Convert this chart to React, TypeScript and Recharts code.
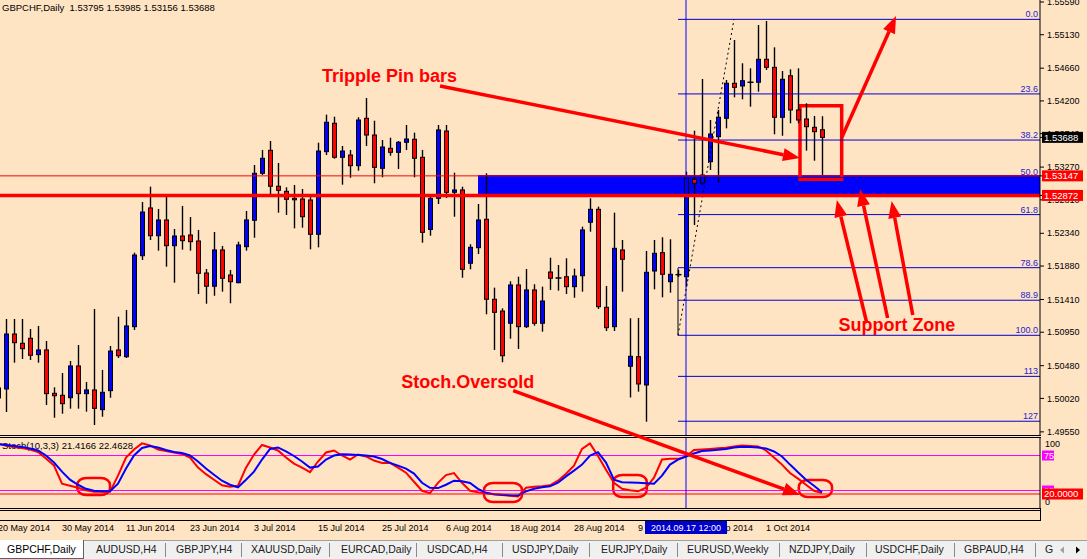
import React from "react";
import { ComposedChart, Bar, Line, XAxis, YAxis, ReferenceLine, ReferenceArea, ReferenceDot } from "recharts";

// GBPCHF daily bars, 20 May 2014 .. 10 Oct 2014
const opens = [
  1.50167, 1.50153, 1.50925, 1.50795, 1.50865, 1.50635, 1.50701, 1.50092, 1.50064, 1.50030,
  1.50476, 1.50087, 1.50139, 1.49862, 1.50129, 1.50701, 1.50606, 1.51028, 1.52025, 1.52696,
  1.52306, 1.52527, 1.52166, 1.52302, 1.52316, 1.52232, 1.51782, 1.51596, 1.52106, 1.51754,
  1.51646, 1.52152, 1.52523, 1.53183, 1.53506, 1.53001, 1.52930, 1.52832, 1.52822, 1.52808,
  1.52326, 1.53487, 1.53886, 1.53408, 1.53440, 1.53290, 1.53956, 1.53721, 1.53253, 1.53534,
  1.53478, 1.53619, 1.53661, 1.53408, 1.52394, 1.52832, 1.53777, 1.52916, 1.52949, 1.51919,
  1.52138, 1.52537, 1.51413, 1.51248, 1.51076, 1.51614, 1.51028, 1.51544, 1.51076, 1.51796,
  1.51712, 1.51730, 1.51590, 1.51744, 1.52495, 1.52677, 1.51300, 1.51028, 1.52106, 1.50472,
  1.50606, 1.50209, 1.51810, 1.52068, 1.51660, 1.51759, 1.51730, 1.53099, 1.53043, 1.53346,
  1.53697, 1.53956, 1.54448, 1.54410, 1.54462, 1.54462, 1.54785, 1.54672, 1.53970, 1.54554,
  1.54073, 1.53946, 1.53829, 1.53795,
];
const highs = [
  1.50195, 1.51136, 1.51136, 1.51136, 1.50996, 1.51038, 1.50827, 1.50176, 1.50377, 1.50546,
  1.50771, 1.50251, 1.51277, 1.50420, 1.50757, 1.51168, 1.51263, 1.52068, 1.52780, 1.52995,
  1.52682, 1.52864, 1.52401, 1.52724, 1.52569, 1.52387, 1.51839, 1.52358, 1.52162, 1.51825,
  1.52222, 1.52653, 1.53300, 1.53511, 1.53637, 1.53328, 1.52986, 1.53019, 1.52963, 1.52864,
  1.53613, 1.54007, 1.53978, 1.53567, 1.53511, 1.53970, 1.54241, 1.53922, 1.53651, 1.53683,
  1.53637, 1.53862, 1.53754, 1.53511, 1.52864, 1.53862, 1.53862, 1.53192, 1.52995, 1.52186,
  1.52752, 1.53183, 1.51576, 1.51286, 1.51666, 1.51730, 1.51839, 1.51624, 1.51590, 1.51997,
  1.51895, 1.51989, 1.51843, 1.52433, 1.52832, 1.52714, 1.51600, 1.52630, 1.52246, 1.51146,
  1.51150, 1.52091, 1.52246, 1.52284, 1.52256, 1.51825, 1.53206, 1.53782, 1.54508, 1.53932,
  1.54073, 1.54494, 1.55056, 1.54729, 1.54658, 1.55267, 1.55323, 1.54953, 1.54620, 1.54644,
  1.54658, 1.54167, 1.53988, 1.53985,
];
const lows = [
  1.49970, 1.49829, 1.50522, 1.50574, 1.50560, 1.50522, 1.49928, 1.49749, 1.49806, 1.49876,
  1.49876, 1.49834, 1.49647, 1.49763, 1.50030, 1.50588, 1.50588, 1.50982, 1.51965, 1.52246,
  1.52096, 1.51871, 1.51646, 1.52110, 1.52096, 1.51487, 1.51351, 1.51463, 1.51520, 1.51357,
  1.51638, 1.52096, 1.52278, 1.53159, 1.52878, 1.52630, 1.52597, 1.52410, 1.52419, 1.52115,
  1.52143, 1.53440, 1.53388, 1.53023, 1.53121, 1.53220, 1.53567, 1.53043, 1.53127, 1.53430,
  1.53244, 1.53511, 1.53127, 1.52208, 1.52306, 1.52752, 1.52836, 1.52573, 1.51716, 1.51834,
  1.52049, 1.51202, 1.50701, 1.50528, 1.50859, 1.50715, 1.51010, 1.51042, 1.50958, 1.51544,
  1.51534, 1.51487, 1.51435, 1.51520, 1.52363, 1.51277, 1.50967, 1.50967, 1.51520, 1.50033,
  1.50115, 1.49693, 1.51553, 1.51441, 1.51506, 1.51726, 1.51590, 1.52457, 1.53019, 1.53230,
  1.53051, 1.53815, 1.54251, 1.54223, 1.54119, 1.54330, 1.54635, 1.53731, 1.53711, 1.53886,
  1.53886, 1.53501, 1.53360, 1.53156,
];
const closes = [
  1.50026, 1.50925, 1.50803, 1.50719, 1.50626, 1.50701, 1.50087, 1.50058, 1.49946, 1.50476,
  1.50087, 1.50139, 1.49881, 1.50106, 1.50686, 1.50620, 1.51038, 1.52035, 1.52639, 1.52306,
  1.52527, 1.52166, 1.52302, 1.52236, 1.52222, 1.51778, 1.51596, 1.52106, 1.51708, 1.51660,
  1.52176, 1.52527, 1.53183, 1.53394, 1.53001, 1.52944, 1.52818, 1.52812, 1.52573, 1.52326,
  1.53496, 1.53900, 1.53408, 1.53496, 1.53290, 1.53932, 1.53721, 1.53267, 1.53553, 1.53478,
  1.53619, 1.53665, 1.53394, 1.52354, 1.52832, 1.53792, 1.52916, 1.52949, 1.51834, 1.52143,
  1.52527, 1.51413, 1.51230, 1.50620, 1.51614, 1.51028, 1.51544, 1.51076, 1.51389, 1.51708,
  1.51712, 1.51590, 1.51740, 1.52387, 1.52677, 1.51309, 1.51014, 1.52129, 1.51975, 1.50612,
  1.50223, 1.51792, 1.52059, 1.51764, 1.51764, 1.51759, 1.53113, 1.53043, 1.53159, 1.53735,
  1.53970, 1.54448, 1.54391, 1.54484, 1.54462, 1.54785, 1.54672, 1.53970, 1.54504, 1.54073,
  1.53932, 1.53838, 1.53768, 1.53688,
];

// Stochastic(10,3,3): main (red) and signal (blue)
const stochMain = [
  91.6, 89.4, 87.3, 85.8, 83.6, 80, 70.7, 60.6, 34.7, 31.8,
  28.9, 25.3, 23.1, 23.1, 23.1, 46.2, 72.1, 83.6, 92.3, 89.4,
  83.6, 81.5, 79.3, 77.2, 72.1, 57.7, 48.3, 40.4, 32.5, 30.3,
  31.8, 57.7, 76.4, 90.1, 86.5, 82.2, 72.1, 63.5, 57.7, 51.2,
  66.4, 79.3, 82.2, 75, 69.2, 76.4, 73.6, 67.8, 64.2, 64.5,
  57.7, 50.5, 37.5, 24.6, 21.3, 36, 47, 49.8, 36, 24.6,
  22.4, 21, 19.5, 18.4, 17.4, 16.6, 28.9, 30.3, 31, 32.5,
  39, 49, 60.6, 84.4, 92.3, 74.3, 54.8, 36, 27.4, 25.3,
  23.8, 28.9, 43.3, 69.2, 70.2, 70.2, 73.6, 82.9, 83.6, 84.4,
  85.4, 86.1, 88, 89.4, 88.7, 88, 82.2, 72.1, 62, 50,
  41.9, 33.2, 24.6, 21.4166,
];
const stochSignal = [
  91.6, 90.1, 88.7, 87.3, 85.1, 82.2, 75, 64.9, 51.9, 40.4,
  33.2, 27.4, 24.6, 24.1, 24.1, 34.7, 56.3, 75, 85.8, 88.7,
  86.5, 82.9, 80, 78.6, 75, 66.4, 56.3, 47.6, 39, 33.2,
  29.6, 40.4, 51.9, 69.2, 84.4, 86.5, 80.8, 74.3, 66.4, 57.7,
  59.2, 69.2, 75, 76.7, 76.4, 75.7, 75, 73.6, 70, 64.5,
  60.6, 56.3, 49.1, 36.1, 28.9, 28.5, 33.2, 39, 38.3, 35.7,
  27.4, 21.7, 19.5, 18.8, 18.1, 17.8, 23.8, 27.4, 29.6, 31,
  36.1, 45.2, 53.4, 62, 75, 79.8, 64.9, 40.4, 36.8, 36.5,
  36.1, 35.4, 34.7, 46.2, 62, 69.2, 73.6, 77.9, 81.5, 82.2,
  83.2, 84.4, 86.5, 87.5, 87.3, 86.5, 85.1, 80.8, 73.6, 62,
  51.2, 40.4, 31.8, 22.4628,
];

const dateTicks = [0, 8, 16, 24, 32, 40, 48, 56, 64, 72, 80, 88, 96];
const dateLabels = [
  "20 May 2014", "30 May 2014", "11 Jun 2014", "23 Jun 2014", "3 Jul 2014", "15 Jul 2014",
  "25 Jul 2014", "6 Aug 2014", "18 Aug 2014", "28 Aug 2014", "9 Sep 2014", "19 Sep 2014", "1 Oct 2014",
];
const priceTicks = [1.5559, 1.5513, 1.5466, 1.542, 1.5374, 1.5327, 1.5281, 1.5234, 1.5188, 1.5141, 1.5095, 1.5048, 1.5002, 1.4955];

const fibLevels = [0, 23.6, 38.2, 50, 61.8, 78.6, 88.9, 100, 113, 127.2];
const fibNames = ["0.0", "23.6", "38.2", "50.0", "61.8", "78.6", "88.9", "100.0", "113", "127"];
const fibTop = 1.55346;
const fibBottom = 1.50907;
const fibStart = 85;

const supportTop = 1.53147;
const supportBottom = 1.52872;
const lastPrice = 1.53688;
const markedBar = 86;
const markedLabel = "2014.09.17 12:00";
// price tags on the right scale (drawn after the plain ticks so they cover them)
const priceTags = [supportTop, supportBottom, lastPrice];
const priceTagColors = ["#FF0000", "#FF0000", "#000000"];
const stochTicks = [0, 25, 75, 100, 20];

// red hand-drawn arrows [fromBar, fromPrice, toBar, toPrice]
const arrows = [
  [55.25, 1.5441, 100.25, 1.53398],
  [105.5, 1.53693, 112.25, 1.55393],
  [108.6, 1.5108, 104.85, 1.52808],
  [111.2, 1.5115, 107.75, 1.52963],
  [114.35, 1.51192, 111.7, 1.52794],
  [64.4, 1.50129, 100.25, 1.48663],
];
// hand-drawn loops on the stochastic [bar1, bar2, v1, v2]
const loops = [
  [9.9, 14, 42.9, 18.6],
  [60.75, 65.5, 35.7, 8.6],
  [76.9, 81.1, 47.1, 15.7],
  [100.1, 104.25, 40, 15.7],
];

const tabLabels = ["GBPCHF,Daily", "AUDUSD,H4", "GBPJPY,H4", "XAUUSD,Daily", "EURCAD,Daily", "USDCAD,H4", "USDJPY,Daily", "EURJPY,Daily", "EURUSD,Weekly", "NZDJPY,Daily", "USDCHF,Daily", "GBPAUD,H4", "G"];
const tabLefts = [7, 96, 176, 251, 341, 427, 512, 601, 687, 789, 875, 964, 1045];
const tabSeps = [165, 241, 329, 416, 502, 589, 677, 779, 866, 954, 1035];

const candles = opens.map((open, i) => ({
  i, open, high: highs[i], low: lows[i], close: closes[i], k: stochMain[i], d: stochSignal[i],
}));

const FONT = '"Liberation Sans", Arial, sans-serif';
const BG = "#FFE4C4";

const Candle = (props: any) => {
  const { x, y, width, height, payload } = props;
  if (x == null || !payload) return null;
  const { open, close, high, low } = payload;
  const top = Math.min(y, y + height);
  const h = Math.abs(height);
  const span = high - low;
  const py = (v: number) => (span > 0 ? top + ((high - v) / span) * h : top);
  const cx = x + width / 2;
  const bTop = py(Math.max(open, close));
  const bBot = py(Math.min(open, close));
  const doji = Math.abs(open - close) < 0.00002;
  return (
    <g>
      <line x1={cx} x2={cx} y1={top} y2={top + h} stroke="#000" strokeWidth={1.4} />
      {doji ? (
        <line x1={cx - 3} x2={cx + 3} y1={bTop} y2={bTop} stroke="#000" strokeWidth={1.5} />
      ) : (
        <rect x={cx - 2} y={bTop} width={4} height={Math.max(bBot - bTop, 1.5)} fill={close > open ? "#0000FF" : "#FF0000"} stroke="#000" strokeWidth={1} />
      )}
    </g>
  );
};

const arrowShape = (p: any) => {
  const { x1, y1, x2, y2 } = p;
  const a = Math.atan2(y2 - y1, x2 - x1);
  const len = 17;
  const half = 6.5;
  const bx = x2 - len * Math.cos(a);
  const by = y2 - len * Math.sin(a);
  const nx = -Math.sin(a) * half;
  const ny = Math.cos(a) * half;
  return (
    <g>
      <line x1={x1} y1={y1} x2={bx} y2={by} stroke="#FF0000" strokeWidth={3.5} />
      <polygon points={`${x2},${y2} ${bx + nx},${by + ny} ${bx - nx},${by - ny}`} fill="#FF0000" />
    </g>
  );
};

const fibShape = (name: string) => (p: any) => {
  const xl = Math.min(p.x1, p.x2);
  const xr = Math.max(p.x1, p.x2);
  return (
    <g>
      <line x1={xl} y1={p.y1} x2={xr} y2={p.y2} stroke="#0000CD" strokeWidth={1} />
      <text x={xr - 2} y={p.y1 - 2} textAnchor="end" fontSize={9} fill="#2323D2">{name}</text>
    </g>
  );
};

const noteShape = (text: string) => (p: any) => (
  <text x={p.cx} y={p.cy} dy="0.35em" fill="#FF0000" fontSize={18} fontWeight="bold" fontFamily={FONT}>{text}</text>
);

const loopShape = (p: any) => (
  <rect x={p.x} y={p.y} width={p.width} height={p.height} rx={9} ry={7} fill="none" stroke="#FF0000" strokeWidth={2.5} />
);

const PriceTick = (p: any) => {
  const v = Number(p.payload.value);
  const n = priceTags.indexOf(v);
  if (n >= 0) {
    return (
      <g>
        <rect x={p.x - 5} y={p.y - 5.5} width={41} height={11} fill={priceTagColors[n]} />
        <text x={p.x - 3} y={p.y} dy="0.35em" fontSize={9.5} fill="#FFFFFF">{v.toFixed(5)}</text>
      </g>
    );
  }
  return <text x={p.x} y={p.y} dy="0.35em" fontSize={9} fill="#000">{v.toFixed(5)}</text>;
};

const StochTick = (p: any) => {
  const v = Number(p.payload.value);
  if (v === 100) return <text x={p.x} y={p.y + 6} dy="0.35em" fontSize={9} fill="#000">100</text>;
  if (v === 0) return <text x={p.x} y={p.y - 6} dy="0.35em" fontSize={9} fill="#000">0</text>;
  if (v === 20) {
    return (
      <g>
        <rect x={p.x - 3} y={p.y - 5.5} width={41} height={11} fill="#FF0000" />
        <text x={p.x - 1} y={p.y} dy="0.35em" fontSize={9.5} fill="#FFFFFF">20.0000</text>
      </g>
    );
  }
  return (
    <g>
      <rect x={p.x - 3} y={p.y - 5} width={12} height={10} fill="#FF00FF" />
      <text x={p.x - 1} y={p.y} dy="0.35em" fontSize={9} fill="#FFFFFF">{v}</text>
    </g>
  );
};

// date labels; the marked bar gets the highlighted time box drawn last so it covers its neighbours
const DateTick = (p: any) => {
  const v = Number(p.payload.value);
  if (v === markedBar) {
    return (
      <g>
        <rect x={p.x - 41} y={p.y + 13} width={82} height={13} fill="#0000CC" />
        <text x={p.x} y={p.y + 19.5} dy="0.35em" textAnchor="middle" fontSize={9} fill="#FFFFFF">{markedLabel}</text>
      </g>
    );
  }
  const idx = dateTicks.indexOf(v);
  return <text x={p.x} y={p.y + 23} fontSize={9} fill="#000">{dateLabels[idx]}</text>;
};

const hLine = (top: number, left: number, width: number) => (
  <div style={{ position: "absolute", top, left, width, height: 1, background: "#000" }} />
);

export default function App() {
  return (
    <div style={{ position: "absolute", left: 0, top: 0, width: 1087, height: 559, background: BG, overflow: "hidden", fontFamily: FONT }}>
      <div style={{ position: "absolute", left: 2, top: 440, fontSize: 9.5, whiteSpace: "pre" }}>Stoch(10,3,3) 21.4166 22.4628</div>

      <div style={{ position: "absolute", left: 0, top: 438 }}>
        <ComposedChart width={1087} height={97} data={candles} margin={{ top: 0, right: 0, bottom: 0, left: 0 }}>
          <XAxis dataKey="i" type="number" domain={[0.25, 130.25]} ticks={[...dateTicks, markedBar]} interval={0} height={27}
            axisLine={false} tickLine={false} tickSize={0} tickMargin={0} tick={DateTick} allowDataOverflow />
          <YAxis orientation="right" width={47} domain={[0, 100]} ticks={stochTicks} interval={0}
            tick={StochTick} axisLine={{ stroke: "#000" }} tickLine={false} tickSize={3} tickMargin={2} allowDataOverflow />
          <ReferenceLine y={75} stroke="#FF00FF" strokeWidth={1} />
          <ReferenceLine y={25} stroke="#FF00FF" strokeWidth={1} />
          <ReferenceLine x={markedBar} stroke="#0000FF" strokeWidth={1} />
          <Line type="linear" dataKey="k" stroke="#FF0000" strokeWidth={2} dot={false} isAnimationActive={false} />
          <Line type="linear" dataKey="d" stroke="#0000FF" strokeWidth={2} dot={false} isAnimationActive={false} />
          <ReferenceLine y={20} stroke="#FF0000" strokeWidth={1} />
          {loops.map((l, n) => (
            <ReferenceArea key={n} x1={l[0]} x2={l[1]} y1={l[3]} y2={l[2]} shape={loopShape} ifOverflow="visible" />
          ))}
        </ComposedChart>
      </div>

      {hLine(435, 0, 1041)}
      {hLine(437, 0, 1041)}
      {hLine(508, 0, 1041)}
      {hLine(510, 0, 1041)}
      {hLine(520, 0, 1041)}
      <div style={{ position: "absolute", left: 1040, top: 508, width: 1, height: 13, background: "#000" }} />

      <div style={{ position: "absolute", left: 0, top: 0, pointerEvents: "none" }}>
        <ComposedChart width={1087} height={520} data={candles} margin={{ top: 0, right: 0, bottom: 85, left: 0 }}>
          <XAxis dataKey="i" type="number" domain={[0.25, 130.25]} hide allowDataOverflow />
          <YAxis orientation="right" width={47} domain={[1.49506, 1.55618]} ticks={[...priceTicks, ...priceTags]} interval={0} allowDataOverflow
            tick={PriceTick} tickSize={4} tickMargin={3} axisLine={{ stroke: "#000" }} tickLine={{ stroke: "#000" }} />
          <ReferenceArea x1={60} x2={130.25} y1={supportBottom} y2={1.53159} fill="#0000FF" fillOpacity={1} stroke="none" ifOverflow="visible" />
          <Bar dataKey={(d: any) => [d.low, d.high]} barSize={5} shape={Candle} isAnimationActive={false} />
          <ReferenceLine x={markedBar} stroke="#0000FF" strokeWidth={1} ifOverflow="visible" />
          {fibLevels.map((lv, n) => {
            const price = fibTop - (lv / 100) * (fibTop - fibBottom);
            return (
              <ReferenceLine key={n} segment={[{ x: fibStart, y: price }, { x: 130.25, y: price }]}
                shape={fibShape(fibNames[n])} ifOverflow="visible" />
            );
          })}
          <ReferenceLine segment={[{ x: fibStart, y: fibBottom }, { x: 92, y: fibTop }]} stroke="#000" strokeDasharray="2 3" ifOverflow="visible" />
          <ReferenceLine segment={[{ x: fibStart, y: 1.51853 }, { x: fibStart, y: fibBottom }]} stroke="#000" ifOverflow="visible" />
          <ReferenceLine y={supportTop} stroke="#FF0000" strokeWidth={1} ifOverflow="visible" />
          <ReferenceLine y={supportBottom} stroke="#FF0000" strokeWidth={3.5} ifOverflow="visible" />
          <ReferenceArea x1={100.25} x2={105.46} y1={1.53099} y2={1.54133} fill="none" stroke="#FF0000" strokeWidth={3.5} ifOverflow="visible" />
          {arrows.map((a, n) => (
            <ReferenceLine key={n} segment={[{ x: a[0], y: a[1] }, { x: a[2], y: a[3] }]} shape={arrowShape} ifOverflow="visible" />
          ))}
          <ReferenceDot x={40.5} y={1.5455} shape={noteShape("Tripple Pin bars")} ifOverflow="visible" />
          <ReferenceDot x={50.4} y={1.50251} shape={noteShape("Stoch.Oversold")} ifOverflow="visible" />
          <ReferenceDot x={105.05} y={1.51052} shape={noteShape("Support Zone")} ifOverflow="visible" />
        </ComposedChart>
      </div>

      <div style={{ position: "absolute", left: 2, top: 2, fontSize: 9.5, whiteSpace: "pre", color: "#000" }}>
        GBPCHF,Daily  1.53795 1.53985 1.53156 1.53688
      </div>

      <div style={{ position: "absolute", left: 0, top: 540, width: 1087, height: 19, background: "#F0F0F0", borderTop: "1px solid #A0A0A0" }} />
      <div style={{ position: "absolute", left: 0, top: 540, width: 83, height: 18, background: "#FFFFFF", borderRight: "1px solid #606060", borderBottom: "1px solid #606060" }} />
      {tabSeps.map((x, n) => (
        <div key={n} style={{ position: "absolute", left: x, top: 543, width: 1, height: 14, background: "#8A8A8A" }} />
      ))}
      {tabLabels.map((t, n) => (
        <div key={t} style={{ position: "absolute", left: tabLefts[n], top: 543, fontSize: 10.5, lineHeight: "13px", color: n === 0 ? "#000" : "#202020", whiteSpace: "pre" }}>{t}</div>
      ))}
      <svg style={{ position: "absolute", left: 1055, top: 543 }} width={32} height={14}>
        <polygon points="5,7 9,3.5 9,10.5" fill="#A0A0A0" />
        <polygon points="25,7 21,3.5 21,10.5" fill="#000" />
      </svg>
    </div>
  );
}
